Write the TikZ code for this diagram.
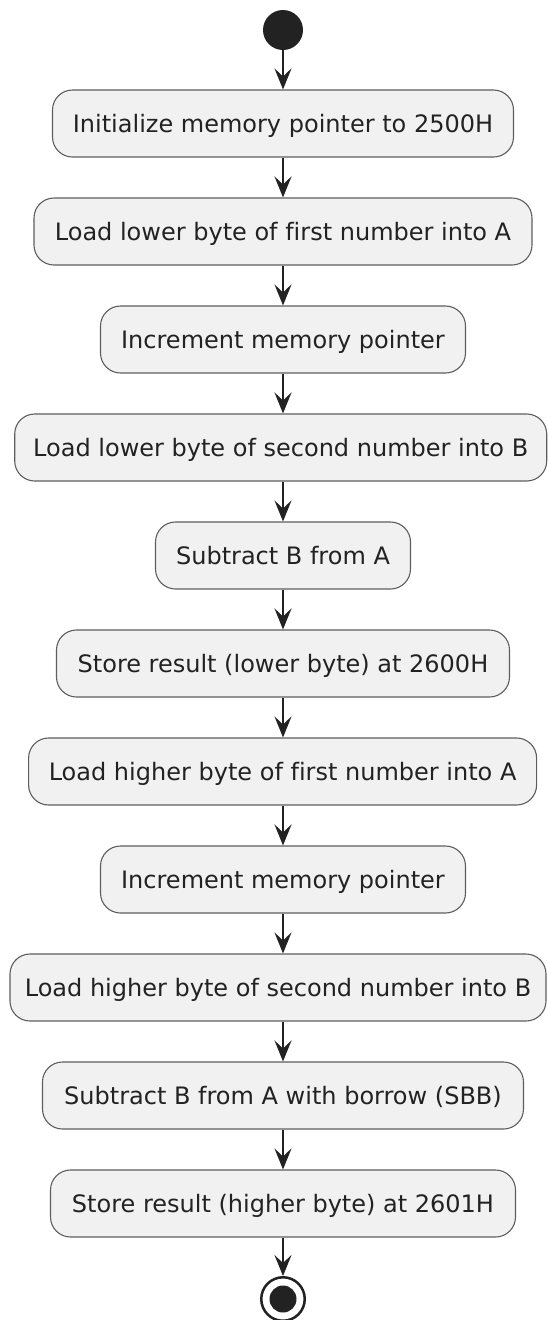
\documentclass[tikz,border=0pt]{standalone}
\usepackage{fontspec}
\setmainfont{DejaVu Sans}[Ligatures=NoCommon]
\usetikzlibrary{arrows.meta}
\definecolor{boxfill}{HTML}{F1F1F1}
\definecolor{boxline}{HTML}{5E5E5E}
\definecolor{ink}{HTML}{222222}
\tikzset{
  action/.style={draw=boxline, line width=1.1pt, fill=boxfill, rounded corners=20pt,
    minimum height=67pt, inner sep=0pt, text height=17.5pt, text depth=0pt,
    font=\fontsize{24}{28}\selectfont, text=ink},
  flow/.style={draw=ink, line width=2pt, -{Stealth[length=21pt,width=17pt,inset=8pt]}},
  startdot/.style={circle, fill=ink, minimum size=40pt, inner sep=0pt},
  endring/.style={circle, draw=ink, line width=2.5pt, minimum size=43.5pt, inner sep=0pt},
  enddot/.style={circle, fill=ink, minimum size=27pt, inner sep=0pt},
}
\begin{document}
\begin{tikzpicture}[x=1pt,y=-1pt]
\useasboundingbox (0,0) rectangle (547,1320);
\fill[white] (0,0) rectangle (547,1320);
\coordinate (axis) at (283,0);

% start node
\node[startdot] (start) at (283,30) {};

% action steps, pitch 108
\node[action, minimum width=461pt] (a1) at (283,123.5) {Initialize memory pointer to 2500H};
\node[action, minimum width=498pt] (a2) at (283,231.5) {Load lower byte of first number into A};
\node[action, minimum width=365pt] (a3) at (283,339.5) {Increment memory pointer};
\node[action, minimum width=532pt] (a4) at (280.7,447.5) {Load lower byte of second number into B};
\node[action, minimum width=255pt] (a5) at (283,555.5) {Subtract B from A};
\node[action, minimum width=453pt] (a6) at (283,663.5) {Store result (lower byte) at 2600H};
\node[action, minimum width=508pt] (a7) at (282.6,771.5) {Load higher byte of first number into A};
\node[action, minimum width=365pt] (a8) at (283,879.5) {Increment memory pointer};
\node[action, minimum width=536pt] (a9) at (278,987.5) {Load higher byte of second number into B};
\node[action, minimum width=481pt] (a10) at (283,1095.5) {Subtract B from A with borrow (SBB)};
\node[action, minimum width=465pt] (a11) at (283,1203.5) {Store result (higher byte) at 2601H};

% stop node
\node[endring] (stop) at (283,1299) {};
\node[enddot] (stopdot) at (stop.center) {};

% connectors along the central axis
\draw[flow] (start.south) -- (axis |- a1.north);
\foreach \p/\n in {a1/a2,a2/a3,a3/a4,a4/a5,a5/a6,a6/a7,a7/a8,a8/a9,a9/a10,a10/a11}{
  \draw[flow] (axis |- \p.south) -- (axis |- \n.north);
}
\draw[flow] (axis |- a11.south) -- (stop.north);
\end{tikzpicture}
\end{document}
